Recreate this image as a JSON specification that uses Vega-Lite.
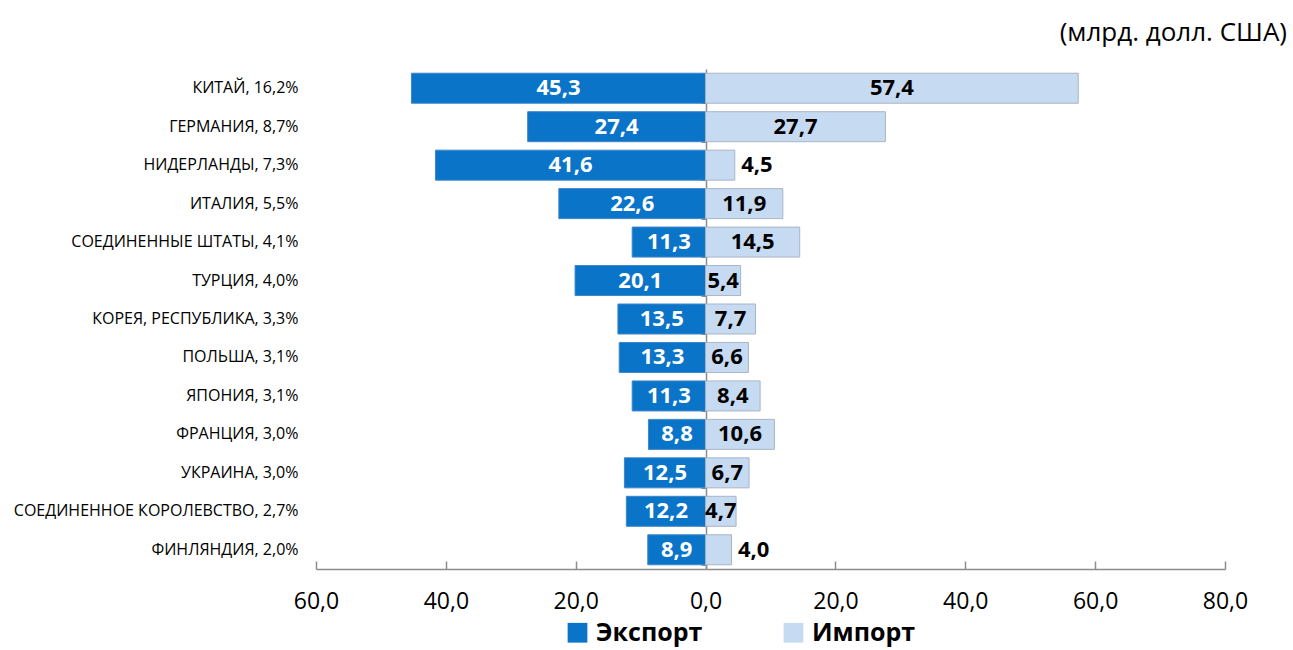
{
  "$schema": "https://vega.github.io/schema/vega-lite/v6.json",
  "width": 909,
  "height": 500,
  "autosize": {"type": "none"},
  "padding": {"left": 316, "top": 69, "right": 68, "bottom": 81},
  "background": "white",
  "config": {"view": {"stroke": null}, "font": "Open Sans"},
  "title": {
    "text": "(млрд. долл. США)",
    "anchor": "end",
    "frame": "group",
    "orient": "top",
    "dx": 62,
    "offset": 23,
    "fontSize": 26,
    "fontWeight": "normal",
    "color": "#000000",
    "font": "Open Sans"
  },
  "data": {
    "values": [
      {"country": "КИТАЙ, 16,2%", "type": "Экспорт", "value": 45.3},
      {"country": "КИТАЙ, 16,2%", "type": "Импорт", "value": 57.4},
      {"country": "ГЕРМАНИЯ, 8,7%", "type": "Экспорт", "value": 27.4},
      {"country": "ГЕРМАНИЯ, 8,7%", "type": "Импорт", "value": 27.7},
      {"country": "НИДЕРЛАНДЫ, 7,3%", "type": "Экспорт", "value": 41.6},
      {"country": "НИДЕРЛАНДЫ, 7,3%", "type": "Импорт", "value": 4.5},
      {"country": "ИТАЛИЯ, 5,5%", "type": "Экспорт", "value": 22.6},
      {"country": "ИТАЛИЯ, 5,5%", "type": "Импорт", "value": 11.9},
      {"country": "СОЕДИНЕННЫЕ ШТАТЫ, 4,1%", "type": "Экспорт", "value": 11.3},
      {"country": "СОЕДИНЕННЫЕ ШТАТЫ, 4,1%", "type": "Импорт", "value": 14.5},
      {"country": "ТУРЦИЯ, 4,0%", "type": "Экспорт", "value": 20.1},
      {"country": "ТУРЦИЯ, 4,0%", "type": "Импорт", "value": 5.4},
      {"country": "КОРЕЯ, РЕСПУБЛИКА, 3,3%", "type": "Экспорт", "value": 13.5},
      {"country": "КОРЕЯ, РЕСПУБЛИКА, 3,3%", "type": "Импорт", "value": 7.7},
      {"country": "ПОЛЬША, 3,1%", "type": "Экспорт", "value": 13.3},
      {"country": "ПОЛЬША, 3,1%", "type": "Импорт", "value": 6.6},
      {"country": "ЯПОНИЯ, 3,1%", "type": "Экспорт", "value": 11.3},
      {"country": "ЯПОНИЯ, 3,1%", "type": "Импорт", "value": 8.4},
      {"country": "ФРАНЦИЯ, 3,0%", "type": "Экспорт", "value": 8.8},
      {"country": "ФРАНЦИЯ, 3,0%", "type": "Импорт", "value": 10.6},
      {"country": "УКРАИНА, 3,0%", "type": "Экспорт", "value": 12.5},
      {"country": "УКРАИНА, 3,0%", "type": "Импорт", "value": 6.7},
      {"country": "СОЕДИНЕННОЕ КОРОЛЕВСТВО, 2,7%", "type": "Экспорт", "value": 12.2},
      {"country": "СОЕДИНЕННОЕ КОРОЛЕВСТВО, 2,7%", "type": "Импорт", "value": 4.7},
      {"country": "ФИНЛЯНДИЯ, 2,0%", "type": "Экспорт", "value": 8.9},
      {"country": "ФИНЛЯНДИЯ, 2,0%", "type": "Импорт", "value": 4.0}
    ]
  },
  "transform": [
    {"calculate": "datum.type === 'Экспорт' ? -datum.value : datum.value", "as": "signed"},
    {"calculate": "datum.type === 'Экспорт' ? -datum.value / 2 : (datum.value < 4.6 ? datum.value + 3.4 : datum.value / 2)", "as": "lx"},
    {"calculate": "replace(format(datum.value, '.1f'), '.', ',')", "as": "lab"}
  ],
  "layer": [
    {
      "mark": {"type": "bar", "strokeWidth": 1},
      "encoding": {
        "y": {
          "field": "country",
          "type": "nominal",
          "sort": null,
          "scale": {"paddingInner": 0.22, "paddingOuter": 0.11},
          "axis": {
            "orient": "left",
            "title": null,
            "domain": false,
            "ticks": false,
            "labelPadding": 18,
            "labelFontSize": 16,
            "labelColor": "#000000",
            "labelLimit": 400,
            "labelFont": "Open Sans"
          }
        },
        "x": {
          "field": "signed",
          "type": "quantitative",
          "scale": {"domain": [-60, 80], "nice": false},
          "axis": {
            "title": null,
            "values": [-60, -40, -20, 0, 20, 40, 60, 80],
            "labelExpr": "replace(format(abs(datum.value), '.1f'), '.', ',')",
            "labelFontSize": 23,
            "labelColor": "#000000",
            "labelFont": "Open Sans",
            "labelFlush": false,
            "labelOverlap": false,
            "grid": false,
            "domainColor": "#8c8c8c",
            "tickColor": "#8c8c8c",
            "domainWidth": 1.5,
            "tickWidth": 1.5,
            "tickSize": -8,
            "labelPadding": 29
          }
        },
        "color": {
          "field": "type",
          "type": "nominal",
          "scale": {"domain": ["Экспорт", "Импорт"], "range": ["#0a74c9", "#c6daf1"]},
          "legend": {
            "orient": "none",
            "legendX": 249,
            "legendY": 551,
            "direction": "horizontal",
            "title": null,
            "symbolType": "square",
            "symbolSize": 390,
            "symbolStrokeWidth": 0,
            "labelFontSize": 25,
            "labelFontWeight": "bold",
            "labelColor": "#000000",
            "labelFont": "Open Sans",
            "labelOffset": 6,
            "columnPadding": 78,
            "labelLimit": 300
          }
        },
        "stroke": {
          "field": "type",
          "type": "nominal",
          "scale": {"domain": ["Экспорт", "Импорт"], "range": ["#3f86c8", "#a9b5c4"]},
          "legend": null
        }
      }
    },
    {
      "mark": {"type": "text", "fontWeight": "bold", "fontSize": 22, "font": "Open Sans", "baseline": "middle", "align": "center"},
      "encoding": {
        "y": {"field": "country", "type": "nominal", "sort": null, "axis": null},
        "x": {"field": "lx", "type": "quantitative"},
        "text": {"field": "lab"},
        "color": {
          "condition": {"test": "datum.type === 'Экспорт'", "value": "#ffffff"},
          "value": "#000000"
        }
      }
    },
    {
      "mark": {"type": "text", "text": ""},
      "encoding": {
        "y": {
          "field": "country",
          "type": "nominal",
          "sort": null,
          "axis": {
            "orient": "right",
            "offset": -519,
            "labels": false,
            "title": null,
            "domainColor": "#8c8c8c",
            "domainWidth": 1.5,
            "tickColor": "#8c8c8c",
            "tickSize": -5,
            "tickBand": "extent"
          }
        }
      }
    }
  ],
  "resolve": {"axis": {"y": "independent"}}
}
